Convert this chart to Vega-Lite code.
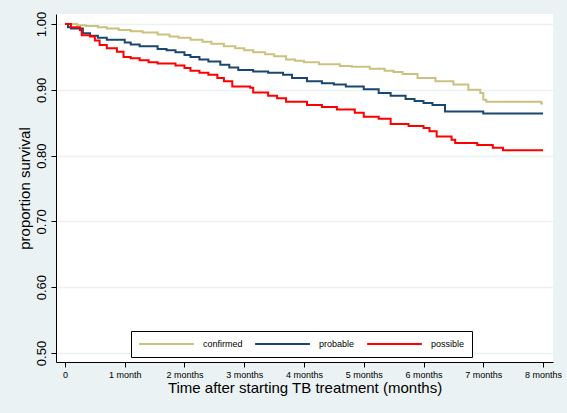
{
  "$schema": "https://vega.github.io/schema/vega-lite/v6.json",
  "width": 497,
  "height": 348,
  "autosize": {"type": "none"},
  "padding": {"left": 56, "top": 14, "right": 14, "bottom": 51},
  "background": "#eaf2f3",
  "config": {
    "view": {"fill": "#ffffff", "stroke": null},
    "font": "Liberation Sans"
  },
  "datasets": {
    "km": [
      {"g": "confirmed", "t": 0, "s": 1.0},
      {"g": "confirmed", "t": 0.2, "s": 0.998},
      {"g": "confirmed", "t": 0.35, "s": 0.997},
      {"g": "confirmed", "t": 0.55, "s": 0.995},
      {"g": "confirmed", "t": 0.7, "s": 0.993},
      {"g": "confirmed", "t": 0.9, "s": 0.991},
      {"g": "confirmed", "t": 1.1, "s": 0.989},
      {"g": "confirmed", "t": 1.3, "s": 0.987},
      {"g": "confirmed", "t": 1.55, "s": 0.984},
      {"g": "confirmed", "t": 1.75, "s": 0.981},
      {"g": "confirmed", "t": 1.9, "s": 0.979},
      {"g": "confirmed", "t": 2.1, "s": 0.976},
      {"g": "confirmed", "t": 2.3, "s": 0.973},
      {"g": "confirmed", "t": 2.45, "s": 0.97},
      {"g": "confirmed", "t": 2.66, "s": 0.966},
      {"g": "confirmed", "t": 2.85, "s": 0.963},
      {"g": "confirmed", "t": 3.0, "s": 0.96},
      {"g": "confirmed", "t": 3.15, "s": 0.957},
      {"g": "confirmed", "t": 3.35, "s": 0.954},
      {"g": "confirmed", "t": 3.5, "s": 0.951},
      {"g": "confirmed", "t": 3.7, "s": 0.946},
      {"g": "confirmed", "t": 3.85, "s": 0.944},
      {"g": "confirmed", "t": 4.0, "s": 0.942},
      {"g": "confirmed", "t": 4.25, "s": 0.939},
      {"g": "confirmed", "t": 4.6, "s": 0.936},
      {"g": "confirmed", "t": 4.8, "s": 0.935},
      {"g": "confirmed", "t": 5.1, "s": 0.932},
      {"g": "confirmed", "t": 5.35, "s": 0.929},
      {"g": "confirmed", "t": 5.5, "s": 0.927},
      {"g": "confirmed", "t": 5.65, "s": 0.924},
      {"g": "confirmed", "t": 5.9, "s": 0.918},
      {"g": "confirmed", "t": 6.2, "s": 0.913},
      {"g": "confirmed", "t": 6.5, "s": 0.908},
      {"g": "confirmed", "t": 6.75, "s": 0.9},
      {"g": "confirmed", "t": 6.95, "s": 0.895},
      {"g": "confirmed", "t": 7.0, "s": 0.885},
      {"g": "confirmed", "t": 7.05, "s": 0.882},
      {"g": "confirmed", "t": 7.97, "s": 0.879},
      {"g": "confirmed", "t": 8.0, "s": 0.879},
      {"g": "probable", "t": 0, "s": 1.0},
      {"g": "probable", "t": 0.05, "s": 0.995},
      {"g": "probable", "t": 0.1, "s": 0.993},
      {"g": "probable", "t": 0.3, "s": 0.986},
      {"g": "probable", "t": 0.42, "s": 0.982},
      {"g": "probable", "t": 0.55, "s": 0.979},
      {"g": "probable", "t": 0.7, "s": 0.976},
      {"g": "probable", "t": 1.0, "s": 0.972},
      {"g": "probable", "t": 1.1, "s": 0.969},
      {"g": "probable", "t": 1.25, "s": 0.966},
      {"g": "probable", "t": 1.55, "s": 0.962},
      {"g": "probable", "t": 1.7, "s": 0.96},
      {"g": "probable", "t": 1.85, "s": 0.957},
      {"g": "probable", "t": 2.0, "s": 0.953},
      {"g": "probable", "t": 2.1, "s": 0.95},
      {"g": "probable", "t": 2.25, "s": 0.946},
      {"g": "probable", "t": 2.4, "s": 0.943},
      {"g": "probable", "t": 2.6, "s": 0.938},
      {"g": "probable", "t": 2.75, "s": 0.934},
      {"g": "probable", "t": 2.9, "s": 0.93},
      {"g": "probable", "t": 3.15, "s": 0.928},
      {"g": "probable", "t": 3.4, "s": 0.926},
      {"g": "probable", "t": 3.65, "s": 0.923},
      {"g": "probable", "t": 3.8, "s": 0.918},
      {"g": "probable", "t": 4.05, "s": 0.913},
      {"g": "probable", "t": 4.3, "s": 0.91},
      {"g": "probable", "t": 4.5, "s": 0.908},
      {"g": "probable", "t": 4.7, "s": 0.905},
      {"g": "probable", "t": 5.0, "s": 0.901},
      {"g": "probable", "t": 5.25, "s": 0.895},
      {"g": "probable", "t": 5.45, "s": 0.891},
      {"g": "probable", "t": 5.7, "s": 0.886},
      {"g": "probable", "t": 5.85, "s": 0.883},
      {"g": "probable", "t": 6.0, "s": 0.88},
      {"g": "probable", "t": 6.15, "s": 0.877},
      {"g": "probable", "t": 6.36, "s": 0.867},
      {"g": "probable", "t": 7.0, "s": 0.864},
      {"g": "probable", "t": 8.0, "s": 0.864},
      {"g": "possible", "t": 0, "s": 1.0},
      {"g": "possible", "t": 0.1, "s": 0.995},
      {"g": "possible", "t": 0.25, "s": 0.991},
      {"g": "possible", "t": 0.28, "s": 0.983},
      {"g": "possible", "t": 0.42, "s": 0.981},
      {"g": "possible", "t": 0.5, "s": 0.975},
      {"g": "possible", "t": 0.58, "s": 0.968},
      {"g": "possible", "t": 0.7, "s": 0.963},
      {"g": "possible", "t": 0.87, "s": 0.958},
      {"g": "possible", "t": 0.98, "s": 0.95},
      {"g": "possible", "t": 1.1, "s": 0.948},
      {"g": "possible", "t": 1.25, "s": 0.945},
      {"g": "possible", "t": 1.4, "s": 0.942},
      {"g": "possible", "t": 1.55, "s": 0.94},
      {"g": "possible", "t": 1.85, "s": 0.937},
      {"g": "possible", "t": 2.0, "s": 0.933},
      {"g": "possible", "t": 2.1, "s": 0.929},
      {"g": "possible", "t": 2.25, "s": 0.926},
      {"g": "possible", "t": 2.4, "s": 0.923},
      {"g": "possible", "t": 2.55, "s": 0.918},
      {"g": "possible", "t": 2.66, "s": 0.913},
      {"g": "possible", "t": 2.8, "s": 0.905},
      {"g": "possible", "t": 3.1, "s": 0.903},
      {"g": "possible", "t": 3.15, "s": 0.896},
      {"g": "possible", "t": 3.4, "s": 0.891},
      {"g": "possible", "t": 3.55, "s": 0.887},
      {"g": "possible", "t": 3.7, "s": 0.882},
      {"g": "possible", "t": 4.05, "s": 0.877},
      {"g": "possible", "t": 4.3, "s": 0.874},
      {"g": "possible", "t": 4.55, "s": 0.87},
      {"g": "possible", "t": 4.85, "s": 0.865},
      {"g": "possible", "t": 5.0, "s": 0.859},
      {"g": "possible", "t": 5.25, "s": 0.856},
      {"g": "possible", "t": 5.45, "s": 0.848},
      {"g": "possible", "t": 5.75, "s": 0.845},
      {"g": "possible", "t": 6.0, "s": 0.842},
      {"g": "possible", "t": 6.1, "s": 0.837},
      {"g": "possible", "t": 6.22, "s": 0.829},
      {"g": "possible", "t": 6.47, "s": 0.824},
      {"g": "possible", "t": 6.53, "s": 0.819},
      {"g": "possible", "t": 6.9, "s": 0.816},
      {"g": "possible", "t": 7.16, "s": 0.812},
      {"g": "possible", "t": 7.33, "s": 0.808},
      {"g": "possible", "t": 8.0, "s": 0.808}
    ]
  },
  "data": {"name": "km"},
  "mark": {"type": "line", "interpolate": "step-after", "strokeWidth": 2, "clip": true},
  "encoding": {
    "x": {
      "field": "t",
      "type": "quantitative",
      "scale": {"domain": [-0.15, 8.167], "nice": false, "zero": false},
      "axis": {
        "values": [0, 1, 2, 3, 4, 5, 6, 7, 8],
        "labelExpr": "datum.value == 0 ? '0' : (datum.value == 1 ? '1 month' : datum.value + ' months')",
        "grid": false,
        "domainColor": "#000000",
        "domainWidth": 1,
        "tickColor": "#000000",
        "tickSize": 5,
        "labelFontSize": 9,
        "labelColor": "#000000",
        "labelPadding": 3,
        "title": "Time after starting TB treatment (months)",
        "titleFontSize": 15,
        "titleFontWeight": "normal",
        "titleColor": "#000000",
        "titlePadding": 1
      }
    },
    "y": {
      "field": "s",
      "type": "quantitative",
      "scale": {"domain": [0.4863, 1.0152], "nice": false, "zero": false},
      "axis": {
        "values": [0.5, 0.6, 0.7, 0.8, 0.9, 1.0],
        "format": ".2f",
        "grid": true,
        "gridColor": "#eaf2f3",
        "gridWidth": 1.5,
        "domainColor": "#000000",
        "domainWidth": 1,
        "tickColor": "#000000",
        "tickSize": 5,
        "labelAngle": -90,
        "labelAlign": "center",
        "labelBaseline": "bottom",
        "labelFontSize": 13,
        "labelColor": "#000000",
        "labelPadding": 3,
        "title": "proportion survival",
        "titleFontSize": 15,
        "titleFontWeight": "normal",
        "titleColor": "#000000",
        "titlePadding": 3
      }
    },
    "color": {
      "field": "g",
      "type": "nominal",
      "scale": {"domain": ["confirmed", "probable", "possible"], "range": ["#cac27e", "#1a476f", "#ff0000"]},
      "legend": {
        "title": null,
        "orient": "none",
        "legendX": 75,
        "legendY": 317,
        "direction": "horizontal",
        "symbolType": "stroke",
        "symbolSize": 3000,
        "symbolStrokeWidth": 2,
        "clipHeight": 12,
        "labelFontSize": 9,
        "labelColor": "#000000",
        "labelOffset": 8,
        "columnPadding": 11,
        "padding": 7,
        "fillColor": "#ffffff",
        "strokeColor": "#000000"
      }
    }
  }
}
